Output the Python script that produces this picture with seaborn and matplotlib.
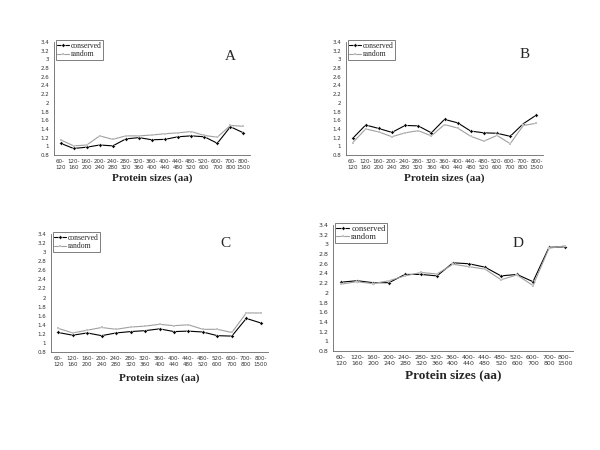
import numpy as np
import pandas as pd
import seaborn as sns
import matplotlib
matplotlib.use("Agg")
import matplotlib.pyplot as plt

size_bins = ["60-\n120", "120-\n160", "160-\n200", "200-\n240", "240-\n280", "280-\n320",
             "320-\n360", "360-\n400", "400-\n440", "440-\n480", "480-\n520", "520-\n600",
             "600-\n700", "700-\n800", "800-\n1500"]

a_conserved = [1.07, 0.95, 0.98, 1.03, 1.01, 1.17, 1.20, 1.15, 1.16, 1.22, 1.24, 1.22, 1.07, 1.45, 1.31]
a_random = [1.15, 1.01, 1.03, 1.24, 1.16, 1.24, 1.24, 1.26, 1.29, 1.31, 1.34, 1.25, 1.21, 1.48, 1.46]

b_conserved = [1.18, 1.49, 1.41, 1.32, 1.48, 1.47, 1.31, 1.62, 1.54, 1.35, 1.31, 1.30, 1.23, 1.52, 1.72]
b_random = [1.08, 1.40, 1.33, 1.22, 1.31, 1.36, 1.24, 1.50, 1.42, 1.23, 1.12, 1.25, 1.06, 1.48, 1.53]

c_conserved = [1.23, 1.17, 1.22, 1.16, 1.22, 1.25, 1.27, 1.31, 1.25, 1.26, 1.24, 1.16, 1.15, 1.54, 1.44]
c_random = [1.32, 1.22, 1.28, 1.34, 1.30, 1.35, 1.37, 1.41, 1.38, 1.40, 1.30, 1.30, 1.23, 1.66, 1.66]

d_conserved = [2.22, 2.25, 2.21, 2.21, 2.38, 2.38, 2.35, 2.62, 2.60, 2.53, 2.35, 2.38, 2.23, 2.94, 2.95]
d_random = [2.18, 2.23, 2.19, 2.25, 2.35, 2.42, 2.39, 2.59, 2.54, 2.49, 2.27, 2.37, 2.15, 2.92, 2.97]

y_ticks = [0.8, 1, 1.2, 1.4, 1.6, 1.8, 2, 2.2, 2.4, 2.6, 2.8, 3, 3.2, 3.4]

sns.set_style("white")
plt.rcParams['font.family'] = ['DejaVu Sans']
serif = ['Liberation Serif', 'DejaVu Serif']

W, H = 600, 450
fig = plt.figure(figsize=(6, 4.5), dpi=100)

# panel: letter, data, axes box (left, top, right, bottom px), letter pos px, tick fs, label fs
panels = [
    ("A", a_conserved, a_random, (54, 42, 250, 155), (230, 57), 4.0, 8, 2),
    ("B", b_conserved, b_random, (346, 42, 543, 155), (525, 55), 4.0, 8, 2),
    ("C", c_conserved, c_random, (51, 234, 268, 352), (225, 243), 4.0, 8, 4),
    ("D", d_conserved, d_random, (333, 225, 573, 351), (518, 243), 4.5, 9.5, 2),
]

palette = {"conserved": "black", "random": "#a0a0a0"}

for letter, cons, rand, box, lpos, tfs, lfs, lpad in panels:
    l, t, r, b = box
    ax = fig.add_axes([l / W, 1 - b / H, (r - l) / W, (b - t) / H])
    df = pd.DataFrame({
        "pos": list(range(len(size_bins))) * 2,
        "value": cons + rand,
        "series": ["conserved"] * len(cons) + ["random"] * len(rand),
    })
    sns.lineplot(data=df, x="pos", y="value", hue="series", style="series",
                 markers={"conserved": "D", "random": "s"}, dashes=False,
                 palette=palette, linewidth=0.8, markersize=2, markeredgewidth=0.3,
                 ax=ax)
    ax.set_xlim(-0.5, len(size_bins) - 0.5)
    ax.set_ylim(0.8, 3.4)
    ax.set_yticks(y_ticks)
    ax.set_yticklabels([f"{v:g}" for v in y_ticks], fontsize=tfs, color="#333333")
    ax.set_xticks(range(len(size_bins)))
    ax.set_xticklabels(size_bins, fontsize=tfs, color="#333333", linespacing=1.3)
    ax.set_xticks(np.arange(-0.5, len(size_bins), 1), minor=True)
    ax.tick_params(axis="x", which="major", length=0, pad=3)
    ax.tick_params(axis="x", which="minor", length=2, width=0.5, color="#666666")
    ax.tick_params(axis="y", length=2, width=0.5, color="#666666", pad=1.5)
    for s in ["top", "right"]:
        ax.spines[s].set_visible(False)
    for s in ["left", "bottom"]:
        ax.spines[s].set_linewidth(0.6)
        ax.spines[s].set_color("#666666")
    ax.set_ylabel("")
    ax.set_xlabel("Protein sizes (aa)", fontsize=lfs, fontweight="bold",
                  family=serif, labelpad=lpad)
    leg = ax.legend(loc="upper left", bbox_to_anchor=(0.0, 1.03),
                    prop={"family": serif, "size": tfs + 1.5},
                    frameon=True, fancybox=False, edgecolor="#444444",
                    handlelength=1.5, borderpad=0.2, labelspacing=0.1,
                    handletextpad=0.3, borderaxespad=0.2)
    leg.get_frame().set_linewidth(0.6)
    fig.text(lpos[0] / W, 1 - lpos[1] / H, letter, fontsize=11,
             family=serif, ha="center", va="center")

fig.savefig("out.png", dpi=100)
